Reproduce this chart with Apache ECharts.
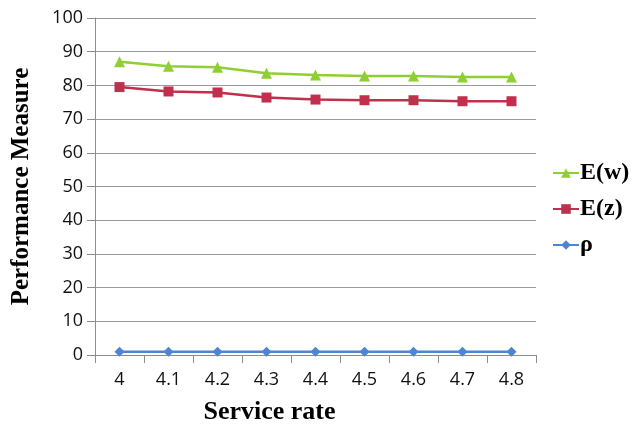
<!DOCTYPE html>
<html>
<head>
<meta charset="utf-8">
<script src="https://cdn.jsdelivr.net/npm/echarts@6/dist/echarts.min.js"></script>
<style>html,body{margin:0;padding:0;background:#fff}#c{width:640px;height:425px}</style>
</head>
<body>
<div id="c"></div>
<script>
var categories = ['4','4.1','4.2','4.3','4.4','4.5','4.6','4.7','4.8'];
var Ew = [87.0, 85.7, 85.4, 83.6, 83.1, 82.8, 82.8, 82.5, 82.5];
var Ez = [79.5, 78.2, 77.9, 76.4, 75.8, 75.6, 75.6, 75.3, 75.3];
var rho = [1, 1, 1, 1, 1, 1, 1, 1, 1];
var yTicks = {min: 0, max: 100, interval: 10};

var chart = echarts.init(document.getElementById('c'), null, {renderer: 'canvas'});
var serif = '"Liberation Serif", "DejaVu Serif", serif';
var sans = '"Open Sans", "Noto Sans", sans-serif';
chart.setOption({
  animation: false,
  backgroundColor: '#fff',
  grid: {left: 95, right: 104, top: 18, bottom: 70, containLabel: false, outerBoundsMode: 'none'},
  legend: {
    orient: 'vertical',
    left: 547,
    top: 156,
    itemWidth: 26,
    itemHeight: 12,
    itemGap: 12,
    data: ['E(w)', 'E(z)', 'ρ'],
    textStyle: {fontFamily: serif, fontWeight: 'bold', fontSize: 24, color: '#000', lineHeight: 24, padding: [0,0,0,-4]}
  },
  xAxis: {
    type: 'category',
    data: categories,
    boundaryGap: true,
    name: 'Service rate',
    nameLocation: 'middle',
    nameGap: 44,
    nameTextStyle: {fontFamily: serif, fontWeight: 'bold', fontSize: 26, color: '#000', padding: [0, 92, 0, 0]},
    axisLine: {show: true, lineStyle: {color: '#8c8c8c', width: 1}},
    axisTick: {show: true, length: 8, lineStyle: {color: '#8c8c8c'}},
    axisLabel: {fontFamily: sans, fontSize: 18, color: '#111', margin: 16}
  },
  yAxis: {
    type: 'value',
    min: yTicks.min, max: yTicks.max, interval: yTicks.interval,
    name: 'Performance Measure',
    nameLocation: 'middle',
    nameGap: 61,
    nameTextStyle: {fontFamily: serif, fontWeight: 'bold', fontSize: 25, color: '#000'},
    axisLine: {show: true, lineStyle: {color: '#8c8c8c', width: 1}},
    axisTick: {show: true, length: 8, lineStyle: {color: '#8c8c8c'}},
    axisLabel: {fontFamily: sans, fontSize: 18, color: '#111', margin: 12},
    splitLine: {show: true, lineStyle: {color: '#9a9a9a', width: 1}}
  },
  series: [
    {name: 'E(w)', type: 'line', data: Ew, symbol: 'triangle', symbolSize: 11,
     color: '#8fcf33', lineStyle: {width: 2.5, color: '#8fcf33'}, itemStyle: {color: '#8fcf33'}},
    {name: 'E(z)', type: 'line', data: Ez, symbol: 'rect', symbolSize: 10,
     color: '#c0304c', lineStyle: {width: 2.5, color: '#c0304c'}, itemStyle: {color: '#c0304c'}},
    {name: 'ρ', type: 'line', data: rho, symbol: 'diamond', symbolSize: 10,
     color: '#4d86d0', lineStyle: {width: 2.5, color: '#4d86d0'}, itemStyle: {color: '#4d86d0'}}
  ]
});
</script>
</body>
</html>
